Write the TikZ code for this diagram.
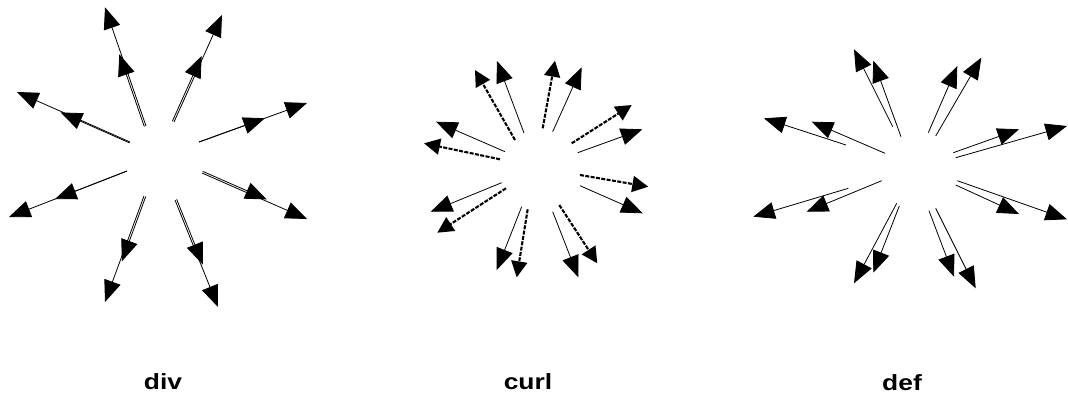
\documentclass[tikz,border=0pt]{standalone}
\usepackage{fontspec}
\setmainfont{Liberation Sans}
\usetikzlibrary{arrows.meta,calc}
\tikzset{
  vec/.style={line width=0.8pt, -{Triangle[length=21.5pt,width=17pt]}},
  wig/.style={line width=2.1pt, dash pattern=on 4pt off 1.4pt, -{Triangle[length=16pt,width=16pt]}},
  lbl/.style={font=\fontsize{22}{24}\selectfont\bfseries, anchor=base, inner sep=0pt},
}
\begin{document}
\begin{tikzpicture}[x=1pt,y=-1pt]
\useasboundingbox (0,0) rectangle (1068,397);

% ---------- div ----------
\foreach \n/\sx/\sy/\lx/\ly/\o in {
  A/146/126/105/7.3/1.8, B/174/122/222/15/1.8, C/199/142/307/103/0,
  D/202/173/307/219/1.8, E/175/200/218/307/1.8, F/144/196/105/302/1.8,
  G/127/171/9/217/0, H/130/142/17/92/1.0} {
  \coordinate (dS\n) at (\sx,\sy);
  \coordinate (dL\n) at (\lx,\ly);
  \coordinate (dSo\n) at ($(dS\n)!\o pt!90:(dL\n)$);
  \coordinate (dLo\n) at ($(dL\n)!\o pt!-90:(dS\n)$);
  \coordinate (dT\n) at ($(dSo\n)!0.61!(dLo\n)$);
  \draw[vec] (dS\n) -- (dL\n);
  \draw[vec] (dSo\n) -- (dT\n);
}

% ---------- curl ----------
\foreach \n/\sx/\sy/\tx/\ty in {
  1/524/133/497/61, 2/552.7/131.7/581.7/67.3, 3/577.7/152.7/642.3/129.3,
  4/580/185.7/642.7/213.3, 5/552.7/211.7/578.3/277.3, 6/521.7/206.7/496.7/270,
  7/501.7/182.7/430.7/211.7, 8/505/151.7/436/121.7} {
  \coordinate (cS\n) at (\sx,\sy);
  \coordinate (cT\n) at (\tx,\ty);
  \draw[vec] (cS\n) -- (cT\n);
}
\foreach \n/\sx/\sy/\tx/\ty in {
  1/515/140/475/70, 2/542.7/128.3/555/60.7, 3/571.7/143.3/631.7/105,
  4/580/175/648.3/186.7, 5/559.3/205/597.3/263.3, 6/527.7/209.3/516.7/277.3,
  7/506/188.3/437.3/232.7, 8/500/159.3/424/143.3} {
  \coordinate (wS\n) at (\sx,\sy);
  \coordinate (wT\n) at (\tx,\ty);
  \draw[wig] (wS\n) -- (wT\n);
}

% ---------- def ----------
\foreach \n/\sx/\sy/\tx/\ty in {
  a1/892.7/126.7/854/49.3, a2/901/136.7/873.3/60.7,
  b1/846/145/764/118.3, b2/885/153.3/811.7/121.7,
  c1/928.3/132.7/957.3/66, c2/935.7/136/981.3/57.7,
  d1/953.3/152.7/1019/129.3, d2/955.7/157.7/1067/126,
  e1/848.3/188.3/753.3/216.7, e2/881.7/180.7/806.7/211.7,
  f1/896.7/203.3/854/283.3, f2/899.3/206/873.3/272.7,
  g1/955.7/185/1019/214, g2/957.3/180.7/1067/219.3,
  h1/929/210.7/954/276.7, h2/935.7/208.3/975.7/288.3} {
  \coordinate (fS\n) at (\sx,\sy);
  \coordinate (fT\n) at (\tx,\ty);
  \draw[vec] (fS\n) -- (fT\n);
}

% ---------- labels ----------
\node[lbl] (ldiv) at (163,389) {\scalebox{1.2}[1]{div}};
\node[lbl] (lcurl) at (528,389) {\scalebox{1.2}[1]{curl}};
\node[lbl] (ldef) at (902,390.5) {\scalebox{1.2}[1]{def}};
\end{tikzpicture}
\end{document}
